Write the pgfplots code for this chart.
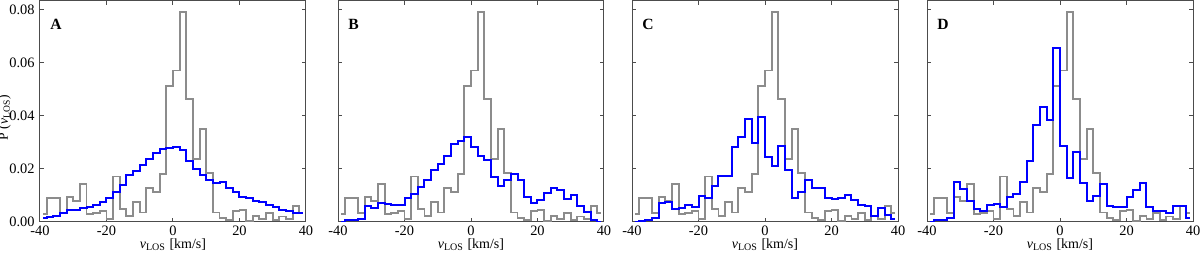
\documentclass[border=0pt]{standalone}
\usepackage{fontspec}
\setmainfont{Liberation Serif}
\usepackage{pgfplots}
\usepackage{pgfplotstable}
\pgfplotsset{compat=1.18}

% bin centres (2 km/s bins); g = grey reference histogram, a-d = blue histograms of panels A-D
\pgfplotstableread{
x    g      a      b      c      d
-39  0.0028 0.0013 0.0000 0.0000 0.0000
-37  0.0088 0.0016 0.0004 0.0002 0.0005
-35  0.0088 0.0020 0.0004 0.0006 0.0005
-33  0.0031 0.0033 0.0010 0.0012 0.0014
-31  0.0092 0.0042 0.0060 0.0069 0.0149
-29  0.0079 0.0045 0.0052 0.0075 0.0122
-27  0.0140 0.0050 0.0068 0.0046 0.0079
-25  0.0027 0.0055 0.0067 0.0050 0.0048
-23  0.0033 0.0063 0.0064 0.0061 0.0038
-21  0.0039 0.0074 0.0064 0.0056 0.0063
-19  0.0010 0.0087 0.0089 0.0097 0.0065
-17  0.0170 0.0110 0.0104 0.0088 0.0053
-15  0.0048 0.0136 0.0132 0.0135 0.0091
-13  0.0020 0.0174 0.0155 0.0170 0.0104
-11  0.0073 0.0190 0.0195 0.0170 0.0149
-9   0.0034 0.0214 0.0218 0.0283 0.0227
-7   0.0127 0.0235 0.0249 0.0319 0.0363
-5   0.0110 0.0258 0.0293 0.0388 0.0433
-3   0.0180 0.0272 0.0302 0.0298 0.0384
-1   0.0510 0.0277 0.0318 0.0396 0.0653
1    0.0570 0.0280 0.0283 0.0244 0.0286
3    0.0790 0.0268 0.0249 0.0209 0.0165
5    0.0463 0.0230 0.0233 0.0285 0.0264
7    0.0236 0.0199 0.0167 0.0196 0.0147
9    0.0350 0.0177 0.0133 0.0088 0.0079
11   0.0182 0.0155 0.0155 0.0110 0.0098
13   0.0034 0.0146 0.0180 0.0156 0.0143
15   0.0014 0.0148 0.0155 0.0125 0.0058
17   0.0004 0.0127 0.0092 0.0125 0.0053
19   0.0039 0.0110 0.0069 0.0088 0.0053
21   0.0045 0.0094 0.0082 0.0086 0.0091
23   0.0002 0.0087 0.0107 0.0090 0.0120
25   0.0020 0.0078 0.0126 0.0100 0.0144
27   0.0010 0.0072 0.0117 0.0080 0.0054
29   0.0031 0.0064 0.0086 0.0062 0.0038
31   0.0004 0.0054 0.0101 0.0058 0.0041
33   0.0019 0.0045 0.0060 0.0020 0.0031
35   0.0009 0.0039 0.0035 0.0052 0.0060
37   0.0058 0.0033 0.0006 0.0025 0.0058
39   0.0033 0.0031 0.0000 0.0009 0.0014
}\histdata

\definecolor{refgray}{rgb}{0.55,0.55,0.55}
\definecolor{frame}{rgb}{0.3,0.3,0.3}

\tikzset{
  letter/.style={anchor=north west, inner sep=0pt,
                 font=\bfseries\fontsize{7.8}{9}\selectfont,
                 xshift=5pt, yshift=-9pt},
}

\pgfplotsset{
  panel/.style={
    width=133pt, height=110.5pt, scale only axis,
    xmin=-40, xmax=40, ymin=0, ymax=0.0834,
    xtick={-40,-20,0,20,40},
    ytick={0,0.02,0.04,0.06,0.08},
    scaled y ticks=false,
    tick align=inside,
    major tick length=2pt,
    axis line style={frame, line width=0.5pt},
    tick style={frame, line width=0.5pt},
    /pgf/number format/assume math mode=true,
    yticklabel style={/pgf/number format/fixed,
                      /pgf/number format/fixed zerofill,
                      /pgf/number format/precision=2,
                      inner sep=0pt, xshift=-2.5pt},
    xticklabel style={inner sep=0pt, yshift=-2pt},
    ticklabel style={font=\fontsize{7.2}{8}\selectfont},
    xlabel={\textit{v}\textsubscript{LOS} [km/s]},
    xlabel style={font=\fontsize{7}{8}\selectfont,
                  at={(axis description cs:0.5,-0.077)},
                  anchor=north, inner sep=0pt},
  },
  grayline/.style={const plot mark mid, refgray, line width=0.95pt, no marks},
  blueline/.style={const plot mark mid, blue, line width=1pt, no marks},
}

\begin{document}
\begin{tikzpicture}
\useasboundingbox (0pt,-15.5pt) rectangle (600pt,110.75pt);

\begin{axis}[panel, at={(20pt,0pt)}, anchor=south west,
  ylabel={P (\textit{v}\textsubscript{LOS})},
  ylabel style={font=\fontsize{6.8}{8}\selectfont,
                at={(axis description cs:-0.133,0.47)},
                anchor=center, inner sep=0pt}]
  \addplot[grayline] table[x=x, y=g] {\histdata};
  \addplot[blueline] table[x=x, y=a] {\histdata};
  \node[letter] at (rel axis cs:0,1) {A};
\end{axis}

\begin{axis}[panel, at={(169pt,0pt)}, anchor=south west, yticklabels={}]
  \addplot[grayline] table[x=x, y=g] {\histdata};
  \addplot[blueline] table[x=x, y=b] {\histdata};
  \node[letter] at (rel axis cs:0,1) {B};
\end{axis}

\begin{axis}[panel, at={(316pt,0pt)}, anchor=south west, yticklabels={}]
  \addplot[grayline] table[x=x, y=g] {\histdata};
  \addplot[blueline] table[x=x, y=c] {\histdata};
  \node[letter] at (rel axis cs:0,1) {C};
\end{axis}

\begin{axis}[panel, at={(463.5pt,0pt)}, anchor=south west, yticklabels={}]
  \addplot[grayline] table[x=x, y=g] {\histdata};
  \addplot[blueline] table[x=x, y=d] {\histdata};
  \node[letter] at (rel axis cs:0,1) {D};
\end{axis}
\end{tikzpicture}
\end{document}
